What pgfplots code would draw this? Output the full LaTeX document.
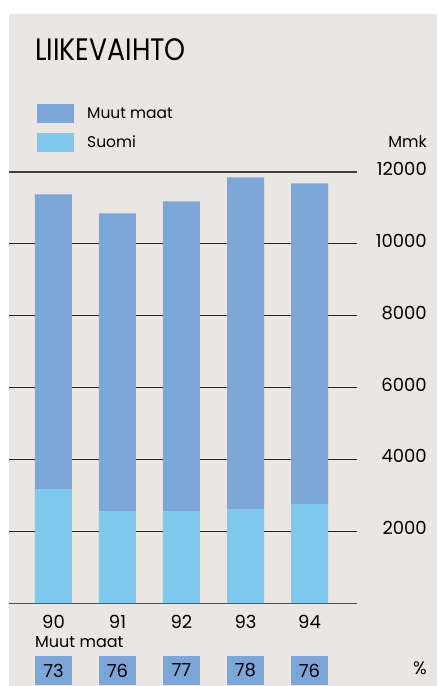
\documentclass[border=0pt]{standalone}
\usepackage{fontspec}
\setmainfont{Poppins}
\usepackage{pgfplots}
\pgfplotsset{compat=1.18}
\definecolor{bg}{RGB}{234,230,227}
\definecolor{muut}{RGB}{125,166,216}
\definecolor{suomi}{RGB}{127,201,239}
\begin{document}
\begin{tikzpicture}[x=1pt,y=1pt]
\fill[white] (0,0) rectangle (437,686);
\fill[bg] (9,0) rectangle (437,672);
\node[anchor=base west, font=\fontsize{31}{33}\selectfont, inner sep=0, xscale=0.86] at (35,625) {LIIKEVAIHTO};
\begin{axis}[
  at={(9pt,83pt)}, anchor=south west, scale only axis,
  width=348pt, height=431pt,
  xmin=-0.695, xmax=4.742, ymin=0, ymax=12000,
  ybar stacked, bar width=37pt,
  xtick=data, xticklabels={90,91,92,93,94},
  ytick={2000,4000,6000,8000,10000},
  extra y ticks={12000},
  extra y tick style={grid style={draw=black!75, line width=1.6pt}},
  scaled y ticks=false,
  yticklabel pos=right,
  axis x line=bottom, axis y line=right,
  x axis line style={-, draw=black!70, line width=0.9pt},
  y axis line style={draw=none},
  major tick length=0pt,
  tick style={draw=none},
  ymajorgrids, grid style={draw=black!85, line width=0.8pt},
  /pgf/number format/assume math mode=true,
  /pgf/number format/1000 sep={},
  ticklabel style={font=\fontsize{18}{21}\selectfont},
  yticklabel style={anchor=east, inner sep=0pt, xshift=70pt, yshift=3pt},
  xticklabel style={anchor=center, yshift=-19pt},
  clip=false,
  reverse legend,
  legend style={at={(axis description cs:0,1)}, anchor=north west, xshift=25pt, yshift=70pt,
    draw=none, fill=none, font=\fontsize{15.5}{18}\selectfont, row sep=10pt, column sep=12pt,
    nodes={inner sep=1pt}},
  legend cell align=left,
  legend image code/.code={\fill[#1] (0pt,-9.5pt) rectangle (37pt,9.5pt);},
]
\addplot[fill=suomi, draw=none] coordinates {(0,3171) (1,2559) (2,2559) (3,2615) (4,2754)};
\addplot[fill=muut, draw=none] coordinates {(0,8206) (1,8289) (2,8623) (3,9235) (4,8929)};
\legend{Suomi, Muut maat}
\node[fill=muut, minimum width=37pt, minimum height=29pt, inner sep=0, font=\fontsize{18}{21}\selectfont] at (axis cs:0,-1878) {73};
\node[fill=muut, minimum width=37pt, minimum height=29pt, inner sep=0, font=\fontsize{18}{21}\selectfont] at (axis cs:1,-1878) {76};
\node[fill=muut, minimum width=37pt, minimum height=29pt, inner sep=0, font=\fontsize{18}{21}\selectfont] at (axis cs:2,-1878) {77};
\node[fill=muut, minimum width=37pt, minimum height=29pt, inner sep=0, font=\fontsize{18}{21}\selectfont] at (axis cs:3,-1878) {78};
\node[fill=muut, minimum width=37pt, minimum height=29pt, inner sep=0, font=\fontsize{18}{21}\selectfont] at (axis cs:4,-1878) {76};
\end{axis}
\node[anchor=west, inner sep=0, font=\fontsize{16}{18}\selectfont] at (35,44) {Muut maat};
\node[anchor=east, inner sep=0, font=\fontsize{16}{18}\selectfont] at (427,544) {Mmk};
\node[anchor=east, inner sep=0, font=\fontsize{18}{20}\selectfont] at (427,18) {\%};
\pgfresetboundingbox
\useasboundingbox (0,0) rectangle (437,686);
\end{tikzpicture}
\end{document}
